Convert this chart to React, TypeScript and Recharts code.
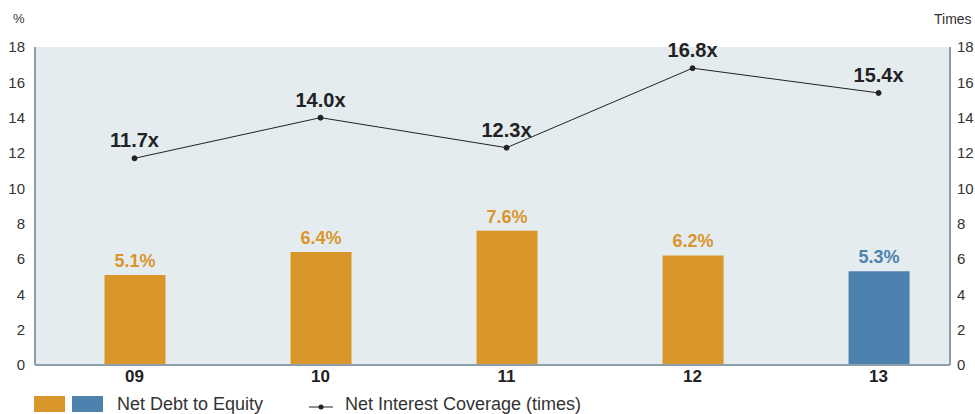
import { ComposedChart, Bar, Line, XAxis, YAxis, CartesianGrid, Cell, LabelList } from "recharts";

const years = ["09", "10", "11", "12", "13"];
const netDebtToEquity = [5.1, 6.4, 7.6, 6.2, 5.3];
const netInterestCoverage = [11.7, 14.0, 12.3, 16.8, 15.4];
const yTicks = [0, 2, 4, 6, 8, 10, 12, 14, 16, 18];
const gridValues = [2, 4, 6, 8, 10, 12, 14, 16];

const ORANGE = "#d9962a";
const BLUE = "#4e82ae";
const AXIS = "#8e9ea9";
const FONT = "'Liberation Sans', Arial, sans-serif";

const data = years.map((year, i) => ({
  x: i,
  year,
  debt: netDebtToEquity[i],
  cover: netInterestCoverage[i],
}));

const barColor = (i: number) => (i === years.length - 1 ? BLUE : ORANGE);

const BarLabel = (props: any) => {
  const { x, y, width, value, index } = props;
  return (
    <text x={x + width / 2} y={y - 8} textAnchor="middle" fill={barColor(index)} fontSize={18} fontWeight={600} fontFamily={FONT}>
      {Number(value).toFixed(1)}%
    </text>
  );
};

const LineLabel = (props: any) => {
  const { x, y, value } = props;
  return (
    <text x={x} y={y - 11} textAnchor="middle" fill="#222" fontSize={20} fontWeight={700} fontFamily={FONT}>
      {Number(value).toFixed(1)}x
    </text>
  );
};

export default function App() {
  const tick = { fontSize: 15, fill: "#333", fontFamily: FONT };
  return (
    <div style={{ position: "absolute", left: 0, top: 0, width: 975, height: 414, background: "#fff", fontFamily: FONT }}>
      <div style={{ position: "absolute", left: 13, top: 11, fontSize: 13, color: "#333" }}>%</div>
      <div style={{ position: "absolute", left: 934, top: 11, fontSize: 14, color: "#333" }}>Times</div>
      <ComposedChart width={975} height={414} data={data} margin={{ top: 47, right: 0, left: 0, bottom: 0 }}>
        <CartesianGrid horizontal vertical={false} horizontalValues={gridValues} fill="#e4ecf0" stroke="#b9c5cc" strokeWidth={1.5} />
        <XAxis
          dataKey="x"
          type="number"
          domain={[-0.535, 4.384]}
          ticks={[0, 1, 2, 3, 4]}
          tickFormatter={(v) => years[v]}
          height={49}
          tickSize={0}
          tickMargin={5}
          axisLine={{ stroke: AXIS, strokeWidth: 2 }}
          tick={{ fontSize: 17, fontWeight: 700, fill: "#222", fontFamily: FONT }}
          allowDataOverflow
        />
        <YAxis
          yAxisId="left"
          domain={[0, 18]}
          ticks={yTicks}
          width={35}
          tickSize={0}
          tickMargin={10}
          axisLine={{ stroke: AXIS, strokeWidth: 2 }}
          tick={tick}
        />
        <YAxis
          yAxisId="right"
          orientation="right"
          domain={[0, 18]}
          ticks={yTicks}
          width={25}
          tickSize={0}
          tickMargin={7}
          axisLine={{ stroke: AXIS, strokeWidth: 2 }}
          tick={{ ...tick, textAnchor: "start" }}
        />
        <Bar yAxisId="left" dataKey="debt" barSize={61} isAnimationActive={false}>
          {data.map((_, i) => (
            <Cell key={i} fill={barColor(i)} />
          ))}
          <LabelList dataKey="debt" content={BarLabel} />
        </Bar>
        <Line
          yAxisId="right"
          dataKey="cover"
          stroke="#222"
          strokeWidth={1}
          dot={{ r: 2.5, fill: "#222", stroke: "#222" }}
          isAnimationActive={false}
        >
          <LabelList dataKey="cover" content={LineLabel} />
        </Line>
      </ComposedChart>
      <div style={{ position: "absolute", left: 34, top: 396, width: 31, height: 16, background: ORANGE }} />
      <div style={{ position: "absolute", left: 72, top: 396, width: 31, height: 16, background: BLUE }} />
      <div style={{ position: "absolute", left: 117, top: 393, fontSize: 18, lineHeight: "22px", color: "#333", whiteSpace: "nowrap" }}>Net Debt to Equity</div>
      <svg style={{ position: "absolute", left: 308, top: 400 }} width={26} height={14}>
        <line x1={1} y1={7} x2={25} y2={7} stroke="#222" strokeWidth={1} />
        <circle cx={13} cy={7} r={2.5} fill="#222" />
      </svg>
      <div style={{ position: "absolute", left: 345, top: 393, fontSize: 18, lineHeight: "22px", color: "#333", whiteSpace: "nowrap" }}>Net Interest Coverage (times)</div>
    </div>
  );
}
